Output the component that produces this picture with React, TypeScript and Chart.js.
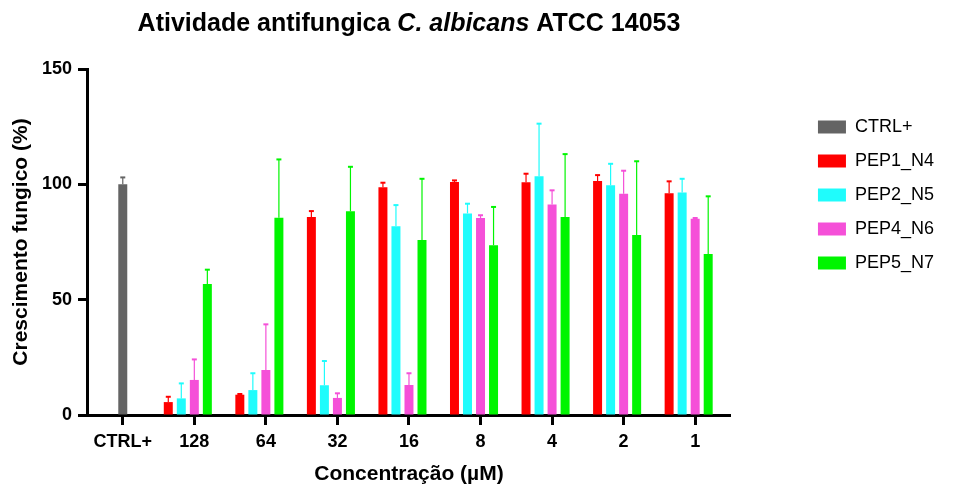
import React, { useEffect, useRef } from 'react';
import { Chart, registerables } from 'chart.js';

Chart.register(...registerables);

// ---------- data ----------
const categories = ['CTRL+', '128', '64', '32', '16', '8', '4', '2', '1'];

const ctrlValues = [100, null, null, null, null, null, null, null, null];
const ctrlErrors = [3, null, null, null, null, null, null, null, null];

const pep1Values = [null, 5.6, 8.8, 85.8, 98.7, 101.0, 100.9, 101.4, 96.1];
const pep1Errors = [null, 2.3, 0.3, 2.6, 2.0, 0.7, 3.7, 2.6, 5.2];

const pep2Values = [null, 7.2, 10.8, 12.9, 81.8, 87.4, 103.5, 99.6, 96.5];
const pep2Errors = [null, 6.5, 7.3, 10.5, 9.2, 4.2, 22.8, 9.3, 5.9];

const pep4Values = [null, 15.2, 19.5, 7.4, 13.0, 85.4, 91.3, 95.9, 85.1];
const pep4Errors = [null, 8.9, 19.8, 2.0, 5.1, 1.2, 6.1, 10.0, 0.3];

const pep5Values = [null, 56.8, 85.5, 88.3, 75.9, 73.6, 85.8, 78.0, 69.8];
const pep5Errors = [null, 6.2, 25.3, 19.3, 26.5, 16.6, 27.3, 32.0, 25.0];

const emptySlot = [null, null, null, null, null, null, null, null, null];

const legendOrder = ['CTRL+', 'PEP1_N4', 'PEP2_N5', 'PEP4_N6', 'PEP5_N7'];
const yTicks = [0, 50, 100, 150];

const titleParts = [
  { text: 'Atividade antifungica ', italic: false },
  { text: 'C. albicans', italic: true },
  { text: ' ATCC 14053', italic: false },
];
const xTitle = 'Concentração (µM)';
const yTitle = 'Crescimento fungico (%)';

// ---------- style ----------
const FONT = '"Liberation Sans", Arial, Helvetica, sans-serif';
const GRAY = '#646464';
const RED = '#ff0000';
const CYAN = '#1ffcfc';
const MAGENTA = '#f550d8';
const GREEN = '#00f500';

const errorBarPlugin = {
  id: 'errorBars',
  afterDatasetsDraw(chart: any) {
    const ctx = chart.ctx;
    const yScale = chart.scales.y;
    chart.data.datasets.forEach((ds: any, i: number) => {
      const errs = ds.errors;
      if (!errs) return;
      const meta = chart.getDatasetMeta(i);
      if (meta.hidden) return;
      meta.data.forEach((el: any, j: number) => {
        const v = ds.data[j];
        const e = errs[j];
        if (v == null || e == null) return;
        const top = yScale.getPixelForValue(v + e);
        ctx.save();
        ctx.strokeStyle = ds.backgroundColor;
        ctx.lineWidth = 1.2;
        ctx.beginPath();
        ctx.moveTo(el.x, el.y);
        ctx.lineTo(el.x, top);
        ctx.stroke();
        ctx.lineWidth = 2;
        ctx.beginPath();
        ctx.moveTo(el.x - 2.5, top);
        ctx.lineTo(el.x + 2.5, top);
        ctx.stroke();
        ctx.restore();
      });
    });
  },
};

const titlePlugin = {
  id: 'mixedTitle',
  afterDraw(chart: any) {
    const ctx = chart.ctx;
    const area = chart.chartArea;
    const size = 25;
    ctx.save();
    ctx.fillStyle = '#000';
    ctx.textBaseline = 'middle';
    ctx.textAlign = 'left';
    const fontFor = (italic: boolean) => `${italic ? 'italic ' : ''}bold ${size}px ${FONT}`;
    let total = 0;
    const widths = titleParts.map((p) => {
      ctx.font = fontFor(p.italic);
      const w = ctx.measureText(p.text).width;
      total += w;
      return w;
    });
    let x = (area.left + area.right) / 2 - total / 2;
    const y = 24;
    titleParts.forEach((p, i) => {
      ctx.font = fontFor(p.italic);
      ctx.fillText(p.text, x, y);
      x += widths[i];
    });
    ctx.restore();
  },
};

export default function App() {
  const ref = useRef<HTMLCanvasElement>(null);

  useEffect(() => {
    if (!ref.current) return;
    const chart = new Chart(ref.current, {
      type: 'bar',
      data: {
        labels: categories,
        datasets: [
          { label: 'PEP1_N4', data: pep1Values, errors: pep1Errors, backgroundColor: RED, stack: 's1' } as any,
          { label: 'PEP2_N5', data: pep2Values, errors: pep2Errors, backgroundColor: CYAN, stack: 's2' } as any,
          { label: 'CTRL+', data: ctrlValues, errors: ctrlErrors, backgroundColor: GRAY, stack: 's3' } as any,
          { label: 'PEP4_N6', data: pep4Values, errors: pep4Errors, backgroundColor: MAGENTA, stack: 's3' } as any,
          { label: 'PEP5_N7', data: pep5Values, errors: pep5Errors, backgroundColor: GREEN, stack: 's4' } as any,
          { label: '', data: emptySlot, backgroundColor: 'rgba(0,0,0,0)', stack: 's5' } as any,
        ],
      },
      options: {
        animation: false,
        responsive: true,
        maintainAspectRatio: false,
        datasets: {
          bar: { categoryPercentage: 0.91, barPercentage: 0.69, borderWidth: 0 },
        },
        layout: { padding: { top: 69, left: 0, right: 12, bottom: 0 } },
        plugins: {
          title: { display: false },
          tooltip: { enabled: false },
          legend: {
            display: true,
            position: 'right',
            align: 'start',
            title: { display: true, text: ' ', font: { size: 10, lineHeight: 1 }, padding: { top: 23, bottom: 0 } },
            labels: {
              boxWidth: 28,
              boxHeight: 13,
              padding: 16,
              color: '#000',
              font: { family: FONT, size: 18 },
              filter: (item: any) => item.text !== '',
              sort: (a: any, b: any) => legendOrder.indexOf(a.text) - legendOrder.indexOf(b.text),
            },
          },
        },
        scales: {
          x: {
            type: 'category',
            grid: { display: true, drawOnChartArea: false, drawTicks: true, offset: false, tickLength: 10, tickWidth: 3, tickColor: '#000' },
            border: { display: true, color: '#000', width: 3 },
            ticks: { color: '#000', padding: 6, font: { family: FONT, size: 18, weight: 'bold' }, maxRotation: 0, autoSkip: false },
            title: { display: true, text: xTitle, color: '#000', font: { family: FONT, size: 21, weight: 'bold', lineHeight: 1.2 }, padding: { top: 0, bottom: 0.5 } },
            afterFit: (s: any) => { s.height = 72; },
          },
          y: {
            type: 'linear',
            position: 'left',
            min: 0,
            max: 150,
            afterBuildTicks: (s: any) => { s.ticks = yTicks.map((v) => ({ value: v })); },
            grid: { display: true, drawOnChartArea: false, drawTicks: true, tickLength: 9, tickWidth: 3, tickColor: '#000' },
            border: { display: true, color: '#000', width: 3 },
            ticks: { color: '#000', padding: 6, font: { family: FONT, size: 18, weight: 'bold' } },
            title: { display: true, text: yTitle, color: '#000', font: { family: FONT, size: 21, weight: 'bold', lineHeight: 1.2 }, padding: { top: 9, bottom: 0 } },
            afterFit: (s: any) => { s.width = 87; },
          },
          yR: {
            type: 'linear',
            position: 'right',
            display: true,
            grid: { display: false, drawTicks: false },
            border: { display: false },
            ticks: { display: false },
            afterFit: (s: any) => { s.width = 71; },
          },
        },
      } as any,
      plugins: [errorBarPlugin, titlePlugin],
    });
    return () => chart.destroy();
  }, []);

  return (
    <div style={{ position: 'fixed', left: 0, top: 0, width: '956px', height: '487px', background: '#fff' }}>
      <canvas ref={ref} />
    </div>
  );
}
